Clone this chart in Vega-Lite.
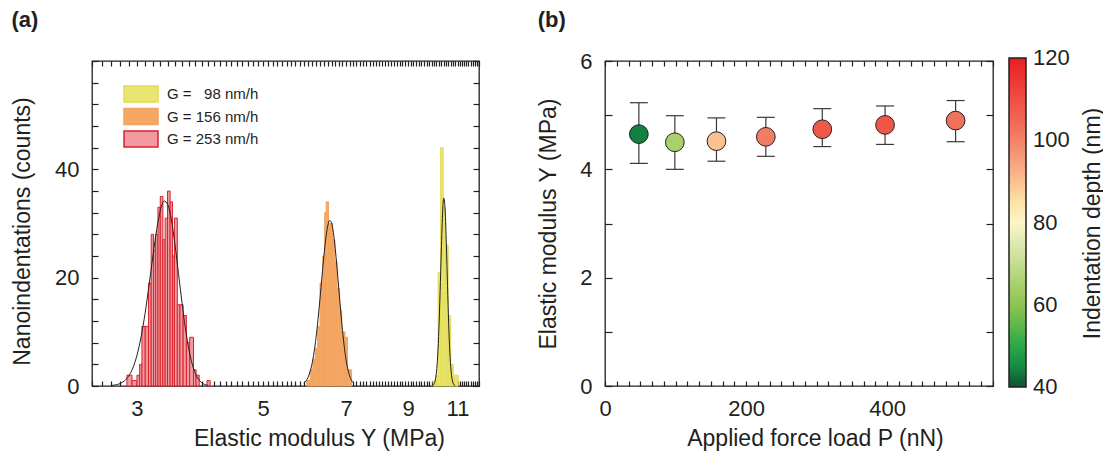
{
  "$schema": "https://vega.github.io/schema/vega-lite/v6.json",
  "padding": {"left": 10, "top": 8, "right": 4, "bottom": 4},
  "config": {
    "font": "Liberation Sans",
    "view": {"stroke": "#231f20", "strokeWidth": 1.3},
    "axis": {"grid": false, "domain": false, "ticks": true, "tickColor": "#231f20", "tickWidth": 1.2, "labelColor": "#231f20", "labelFontSize": 22, "titleColor": "#231f20", "titleFontSize": 23, "titleFontWeight": "normal", "labelFlush": false, "labelOverlap": false},
    "legend": {"labelColor": "#231f20", "titleColor": "#231f20", "padding": 0},
    "title": {"color": "#231f20", "fontSize": 22, "fontWeight": "bold", "anchor": "start", "frame": "bounds", "offset": 18}
  },
  "datasets": {
    "hist": [
      {"series": "98", "x0": 9.97, "x1": 10.08, "count": 1},
      {"series": "98", "x0": 10.08, "x1": 10.17, "count": 2},
      {"series": "98", "x0": 10.17, "x1": 10.27, "count": 21},
      {"series": "98", "x0": 10.27, "x1": 10.38, "count": 44},
      {"series": "98", "x0": 10.38, "x1": 10.48, "count": 33},
      {"series": "98", "x0": 10.48, "x1": 10.59, "count": 26},
      {"series": "98", "x0": 10.59, "x1": 10.70, "count": 13},
      {"series": "98", "x0": 10.70, "x1": 10.81, "count": 4},
      {"series": "98", "x0": 10.81, "x1": 11.03, "count": 2},
      {"series": "156", "x0": 5.97, "x1": 6.055, "count": 1},
      {"series": "156", "x0": 6.055, "x1": 6.12, "count": 3},
      {"series": "156", "x0": 6.12, "x1": 6.18, "count": 5},
      {"series": "156", "x0": 6.18, "x1": 6.24, "count": 7},
      {"series": "156", "x0": 6.24, "x1": 6.30, "count": 11},
      {"series": "156", "x0": 6.30, "x1": 6.37, "count": 19},
      {"series": "156", "x0": 6.37, "x1": 6.42, "count": 24},
      {"series": "156", "x0": 6.42, "x1": 6.46, "count": 32},
      {"series": "156", "x0": 6.46, "x1": 6.52, "count": 34},
      {"series": "156", "x0": 6.52, "x1": 6.57, "count": 30},
      {"series": "156", "x0": 6.57, "x1": 6.63, "count": 30},
      {"series": "156", "x0": 6.63, "x1": 6.69, "count": 27},
      {"series": "156", "x0": 6.69, "x1": 6.75, "count": 23},
      {"series": "156", "x0": 6.75, "x1": 6.82, "count": 18},
      {"series": "156", "x0": 6.82, "x1": 6.88, "count": 14},
      {"series": "156", "x0": 6.88, "x1": 6.97, "count": 10},
      {"series": "156", "x0": 6.97, "x1": 7.04, "count": 9},
      {"series": "156", "x0": 7.04, "x1": 7.16, "count": 3},
      {"series": "253", "x0": 2.88, "x1": 2.94, "count": 2},
      {"series": "253", "x0": 2.94, "x1": 3.00, "count": 1},
      {"series": "253", "x0": 3.00, "x1": 3.032, "count": 2},
      {"series": "253", "x0": 3.032, "x1": 3.061, "count": 4},
      {"series": "253", "x0": 3.061, "x1": 3.102, "count": 11},
      {"series": "253", "x0": 3.102, "x1": 3.143, "count": 11},
      {"series": "253", "x0": 3.143, "x1": 3.178, "count": 19},
      {"series": "253", "x0": 3.178, "x1": 3.208, "count": 28},
      {"series": "253", "x0": 3.208, "x1": 3.235, "count": 25},
      {"series": "253", "x0": 3.235, "x1": 3.266, "count": 28},
      {"series": "253", "x0": 3.266, "x1": 3.297, "count": 33},
      {"series": "253", "x0": 3.297, "x1": 3.332, "count": 35},
      {"series": "253", "x0": 3.332, "x1": 3.363, "count": 27},
      {"series": "253", "x0": 3.363, "x1": 3.395, "count": 31},
      {"series": "253", "x0": 3.395, "x1": 3.431, "count": 36},
      {"series": "253", "x0": 3.431, "x1": 3.464, "count": 34},
      {"series": "253", "x0": 3.464, "x1": 3.491, "count": 24},
      {"series": "253", "x0": 3.491, "x1": 3.533, "count": 31},
      {"series": "253", "x0": 3.533, "x1": 3.570, "count": 15},
      {"series": "253", "x0": 3.570, "x1": 3.617, "count": 15},
      {"series": "253", "x0": 3.617, "x1": 3.665, "count": 13},
      {"series": "253", "x0": 3.665, "x1": 3.714, "count": 8},
      {"series": "253", "x0": 3.714, "x1": 3.772, "count": 9},
      {"series": "253", "x0": 3.772, "x1": 3.812, "count": 3},
      {"series": "253", "x0": 3.812, "x1": 3.861, "count": 2},
      {"series": "253", "x0": 3.984, "x1": 4.036, "count": 1}
    ],
    "curve": [
      {"series": "253", "x": 2.70, "y": 0.08}, {"series": "253", "x": 2.75, "y": 0.20}, {"series": "253", "x": 2.80, "y": 0.44},
      {"series": "253", "x": 2.85, "y": 0.93}, {"series": "253", "x": 2.90, "y": 1.82}, {"series": "253", "x": 2.95, "y": 3.33},
      {"series": "253", "x": 3.00, "y": 5.68}, {"series": "253", "x": 3.05, "y": 9.04}, {"series": "253", "x": 3.10, "y": 13.41},
      {"series": "253", "x": 3.15, "y": 18.56}, {"series": "253", "x": 3.20, "y": 23.98}, {"series": "253", "x": 3.25, "y": 28.92},
      {"series": "253", "x": 3.30, "y": 32.53}, {"series": "253", "x": 3.35, "y": 34.15}, {"series": "253", "x": 3.40, "y": 33.45},
      {"series": "253", "x": 3.45, "y": 30.57}, {"series": "253", "x": 3.50, "y": 26.06}, {"series": "253", "x": 3.55, "y": 20.74},
      {"series": "253", "x": 3.60, "y": 15.40}, {"series": "253", "x": 3.65, "y": 10.67}, {"series": "253", "x": 3.70, "y": 6.90},
      {"series": "253", "x": 3.75, "y": 4.16}, {"series": "253", "x": 3.80, "y": 2.34}, {"series": "253", "x": 3.85, "y": 1.23},
      {"series": "253", "x": 3.90, "y": 0.60}, {"series": "253", "x": 3.95, "y": 0.28}, {"series": "253", "x": 4.00, "y": 0.12},
      {"series": "156", "x": 5.90, "y": 0.50}, {"series": "156", "x": 5.95, "y": 0.91}, {"series": "156", "x": 6.00, "y": 1.58},
      {"series": "156", "x": 6.05, "y": 2.62}, {"series": "156", "x": 6.10, "y": 4.14}, {"series": "156", "x": 6.15, "y": 6.25},
      {"series": "156", "x": 6.20, "y": 8.99}, {"series": "156", "x": 6.25, "y": 12.34}, {"series": "156", "x": 6.30, "y": 16.15},
      {"series": "156", "x": 6.35, "y": 20.17}, {"series": "156", "x": 6.40, "y": 24.02}, {"series": "156", "x": 6.45, "y": 27.29},
      {"series": "156", "x": 6.50, "y": 29.58}, {"series": "156", "x": 6.55, "y": 30.57}, {"series": "156", "x": 6.60, "y": 30.14},
      {"series": "156", "x": 6.65, "y": 28.34}, {"series": "156", "x": 6.70, "y": 25.43}, {"series": "156", "x": 6.75, "y": 21.76},
      {"series": "156", "x": 6.80, "y": 17.76}, {"series": "156", "x": 6.85, "y": 13.82}, {"series": "156", "x": 6.90, "y": 10.26},
      {"series": "156", "x": 6.95, "y": 7.27}, {"series": "156", "x": 7.00, "y": 4.91}, {"series": "156", "x": 7.05, "y": 3.16},
      {"series": "156", "x": 7.10, "y": 1.95}, {"series": "156", "x": 7.15, "y": 1.14}, {"series": "156", "x": 7.20, "y": 0.64},
      {"series": "98", "x": 9.95, "y": 0.11}, {"series": "98", "x": 10.00, "y": 0.37}, {"series": "98", "x": 10.05, "y": 1.05},
      {"series": "98", "x": 10.10, "y": 2.59}, {"series": "98", "x": 10.15, "y": 5.59}, {"series": "98", "x": 10.20, "y": 10.57},
      {"series": "98", "x": 10.25, "y": 17.42}, {"series": "98", "x": 10.30, "y": 25.09}, {"series": "98", "x": 10.35, "y": 31.57},
      {"series": "98", "x": 10.40, "y": 34.71}, {"series": "98", "x": 10.45, "y": 33.33}, {"series": "98", "x": 10.50, "y": 27.95},
      {"series": "98", "x": 10.55, "y": 20.48}, {"series": "98", "x": 10.60, "y": 13.11}, {"series": "98", "x": 10.65, "y": 7.33},
      {"series": "98", "x": 10.70, "y": 3.58}, {"series": "98", "x": 10.75, "y": 1.53}, {"series": "98", "x": 10.80, "y": 0.57},
      {"series": "98", "x": 10.85, "y": 0.19}, {"series": "98", "x": 10.90, "y": 0.05}
    ],
    "pts": [
      {"load": 48, "Y": 4.65, "lo": 4.11, "hi": 5.23, "depth": 44},
      {"load": 99, "Y": 4.50, "lo": 4.00, "hi": 4.99, "depth": 65},
      {"load": 158, "Y": 4.52, "lo": 4.15, "hi": 4.95, "depth": 90},
      {"load": 228, "Y": 4.60, "lo": 4.24, "hi": 4.96, "depth": 101},
      {"load": 308, "Y": 4.74, "lo": 4.42, "hi": 5.12, "depth": 108},
      {"load": 397, "Y": 4.82, "lo": 4.46, "hi": 5.17, "depth": 108.5},
      {"load": 497, "Y": 4.90, "lo": 4.51, "hi": 5.27, "depth": 103}
    ]
  },
  "spacing": 56,
  "hconcat": [
    {
      "title": {"text": "(a)"},
      "width": 387,
      "height": 325,
      "resolve": {"axis": {"x": "independent", "y": "independent"}},
      "layer": [
        {
          "data": {"name": "hist"},
          "mark": {"type": "rect", "strokeWidth": 1},
          "encoding": {
            "x": {"field": "x0", "type": "quantitative",
              "scale": {"type": "log", "domain": [2.5, 12], "nice": false},
              "axis": {"orient": "bottom", "offset": -5,
                "values": [2.5,2.6,2.7,2.8,2.9,3,3.1,3.2,3.3,3.4,3.5,3.6,3.7,3.8,3.9,4,4.1,4.2,4.3,4.4,4.5,4.6,4.7,4.8,4.9,5,5.1,5.2,5.3,5.4,5.5,5.6,5.7,5.8,5.9,6,6.1,6.2,6.3,6.4,6.5,6.6,6.7,6.8,6.9,7,7.1,7.2,7.3,7.4,7.5,7.6,7.7,7.8,7.9,8,8.1,8.2,8.3,8.4,8.5,8.6,8.7,8.8,8.9,9,9.1,9.2,9.3,9.4,9.5,9.6,9.7,9.8,9.9,10,10.1,10.2,10.3,10.4,10.5,10.6,10.7,10.8,10.9,11,11.1,11.2,11.3,11.4,11.5,11.6,11.7,11.8,11.9,12],
                "labelExpr": "(datum.value === 3 || datum.value === 5 || datum.value === 7 || datum.value === 9 || datum.value === 11) ? format(datum.value, 'd') : ''",
                "tickSize": 5,
                "labelPadding": 12,
                "title": "Elastic modulus Y (MPa)",
                "titleX": 227,
                "titlePadding": 8}},
            "x2": {"field": "x1"},
            "y": {"field": "count", "type": "quantitative",
              "scale": {"domain": [0, 60], "nice": false},
              "axis": {"orient": "left", "offset": -6,
                "values": [0,4,8,12,16,20,24,28,32,36,40,44,48,52,56,60],
                "labelExpr": "(datum.value % 20 === 0 && datum.value < 60) ? datum.label : ''",
                "tickSize": 6,
                "labelPadding": 13,
                "title": "Nanoindentations (counts)",
                "titleY": 170,
                "titlePadding": 20}},
            "y2": {"datum": 0},
            "fill": {"field": "series", "type": "nominal",
              "scale": {"domain": ["98", "156", "253"], "range": ["#e9e56e", "#f5a866", "#f19aa0"]},
              "legend": {"title": null, "orient": "none", "legendX": 38, "legendY": 22,
                "symbolType": "M-1.7,-0.8H1.7V0.8H-1.7Z", "symbolSize": 400, "symbolStrokeWidth": 1.5,
                "labelFontSize": 15, "labelOffset": 15, "rowPadding": 0.5,
                "labelExpr": "datum.value == '98' ? 'G = \u00a0\u00a098 nm/h' : 'G = ' + datum.value + ' nm/h'",
                "encode": {"symbols": {"update": {
                  "fill": {"signal": "datum.value == '98' ? '#f5f4c0' : datum.value == '156' ? '#fbd8bd' : '#f8c1c5'"},
                  "stroke": {"signal": "datum.value == '98' ? '#e2dd55' : datum.value == '156' ? '#f3a35e' : '#d9232b'"},
                  "fillOpacity": {"value": 1}, "strokeOpacity": {"value": 1}}}}}},
            "stroke": {"field": "series", "type": "nominal",
              "scale": {"domain": ["98", "156", "253"], "range": ["#e2dd55", "#f3a35e", "#d9232b"]},
              "legend": null}
          }
        },
        {
          "data": {"name": "curve"},
          "mark": {"type": "line", "color": "#231f20", "strokeWidth": 1, "interpolate": "monotone"},
          "encoding": {
            "x": {"field": "x", "type": "quantitative",
              "axis": {"orient": "top", "offset": -5,
                "values": [2.5,2.6,2.7,2.8,2.9,3,3.1,3.2,3.3,3.4,3.5,3.6,3.7,3.8,3.9,4,4.1,4.2,4.3,4.4,4.5,4.6,4.7,4.8,4.9,5,5.1,5.2,5.3,5.4,5.5,5.6,5.7,5.8,5.9,6,6.1,6.2,6.3,6.4,6.5,6.6,6.7,6.8,6.9,7,7.1,7.2,7.3,7.4,7.5,7.6,7.7,7.8,7.9,8,8.1,8.2,8.3,8.4,8.5,8.6,8.7,8.8,8.9,9,9.1,9.2,9.3,9.4,9.5,9.6,9.7,9.8,9.9,10,10.1,10.2,10.3,10.4,10.5,10.6,10.7,10.8,10.9,11,11.1,11.2,11.3,11.4,11.5,11.6,11.7,11.8,11.9,12],
                "labels": false, "title": null, "ticks": true, "tickSize": 5}},
            "y": {"field": "y", "type": "quantitative",
              "axis": {"orient": "right", "offset": -6,
                "values": [0,4,8,12,16,20,24,28,32,36,40,44,48,52,56,60],
                "labels": false, "title": null, "ticks": true, "tickSize": 6}},
            "detail": {"field": "series"}
          }
        }
      ]
    },
    {
      "title": {"text": "(b)"},
      "width": 388,
      "height": 325,
      "data": {"name": "pts"},
      "resolve": {"axis": {"x": "independent", "y": "independent"}},
      "layer": [
        {
          "mark": {"type": "rule", "color": "#3a3a3a", "strokeWidth": 1.2},
          "encoding": {
            "x": {"field": "load", "type": "quantitative",
              "scale": {"domain": [0, 550], "nice": false, "zero": false},
              "axis": {"orient": "bottom", "offset": -5,
                "values": [0,16.667,33.333,50,66.667,83.333,100,116.667,133.333,150,166.667,183.333,200,216.667,233.333,250,266.667,283.333,300,316.667,333.333,350,366.667,383.333,400,416.667,433.333,450,466.667,483.333,500,516.667,533.333,550],
                "labelExpr": "(datum.value === 0 || datum.value === 200 || datum.value === 400) ? format(datum.value, 'd') : ''",
                "tickSize": 5,
                "labelPadding": 12,
                "title": "Applied force load P (nN)",
                "titleX": 210,
                "titlePadding": 8}},
            "y": {"field": "lo", "type": "quantitative",
              "scale": {"domain": [0, 6], "nice": false},
              "axis": {"orient": "left", "offset": -7,
                "values": [0,1,2,3,4,5,6],
                "labelExpr": "datum.value % 2 === 0 ? datum.label : ''",
                "tickSize": 7,
                "labelPadding": 13,
                "title": "Elastic modulus Y (MPa)",
                "titlePadding": 19}},
            "y2": {"field": "hi"}
          }
        },
        {
          "mark": {"type": "tick", "orient": "horizontal", "size": 18, "thickness": 1.2, "color": "#3a3a3a", "opacity": 1},
          "encoding": {
            "x": {"field": "load", "type": "quantitative", "axis": null},
            "y": {"field": "lo", "type": "quantitative", "axis": null}
          }
        },
        {
          "mark": {"type": "tick", "orient": "horizontal", "size": 18, "thickness": 1.2, "color": "#3a3a3a", "opacity": 1},
          "encoding": {
            "x": {"field": "load", "type": "quantitative", "axis": null},
            "y": {"field": "hi", "type": "quantitative", "axis": null}
          }
        },
        {
          "mark": {"type": "circle", "size": 350, "opacity": 1, "stroke": "#231f20", "strokeWidth": 1},
          "encoding": {
            "x": {"field": "load", "type": "quantitative",
              "axis": {"orient": "top", "offset": -5,
                "values": [0,16.667,33.333,50,66.667,83.333,100,116.667,133.333,150,166.667,183.333,200,216.667,233.333,250,266.667,283.333,300,316.667,333.333,350,366.667,383.333,400,416.667,433.333,450,466.667,483.333,500,516.667,533.333,550],
                "labels": false, "title": null, "ticks": true, "tickSize": 5}},
            "y": {"field": "Y", "type": "quantitative",
              "axis": {"orient": "right", "offset": -7, "values": [0,1,2,3,4,5,6], "labels": false, "ticks": true, "tickSize": 7,
                "title": "Indentation depth (nm)", "titleAngle": 270, "titleX": 106, "titleY": 162,
                "titleAlign": "center", "titleBaseline": "middle"}},
            "fill": {"field": "depth", "type": "quantitative",
              "scale": {"domain": [40,45,50,55,60,65,70,75,80,85,90,95,100,105,110,115,120],
                "range": ["#0b5530","#178a43","#2aa84a","#5cb848","#8dc453","#a9d06b","#c4dd91","#dfe9b3","#fbf6c6","#fde2a6","#fac191","#f7a07d","#f3826a","#f06654","#ef4f43","#ec3632","#e91e25"]},
              "legend": {"type": "gradient", "orient": "none", "legendX": 404, "legendY": -3, "direction": "vertical",
                "values": [40.01, 60, 80, 100, 119.99],
                "format": "d",
                "gradientLength": 329, "gradientThickness": 17,
                "gradientStrokeColor": "#231f20", "gradientStrokeWidth": 1.5,
                "labelFontSize": 22, "labelOffset": 7,
                "title": null}}
          }
        }
      ]
    }
  ]
}
